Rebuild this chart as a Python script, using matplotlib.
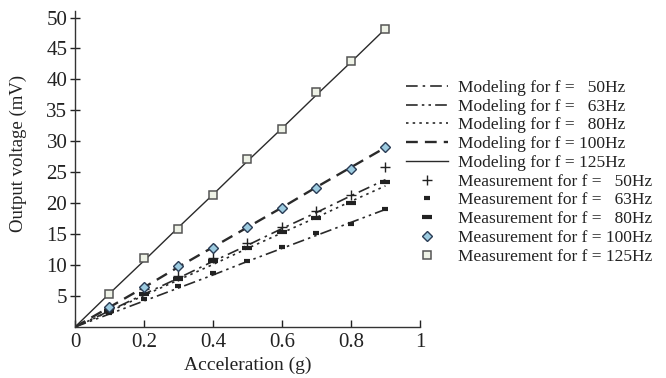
import matplotlib
matplotlib.use("Agg")
import matplotlib.pyplot as plt

accel = [0.0, 0.1, 0.2, 0.3, 0.4, 0.5, 0.6, 0.7, 0.8, 0.9]

model_50 = [0.0, 2.6, 5.3, 7.9, 10.6, 13.2, 15.9, 18.5, 21.2, 23.8]
model_63 = [0.0, 2.1, 4.2, 6.3, 8.4, 10.6, 12.7, 14.8, 16.9, 19.0]
model_80 = [0.0, 2.5, 5.1, 7.6, 10.1, 12.7, 15.2, 17.7, 20.3, 22.8]
model_100 = [0.0, 3.2, 6.4, 9.7, 12.9, 16.1, 19.3, 22.6, 25.8, 29.0]
model_125 = [0.0, 5.4, 10.7, 16.1, 21.4, 26.8, 32.1, 37.5, 42.8, 48.2]

meas_50 = [0.0, 3.0, 6.1, 8.3, 11.1, 13.5, 16.1, 18.7, 21.4, 25.8]
meas_63 = [0.0, 2.2, 4.5, 6.7, 8.8, 10.7, 13.0, 15.2, 16.6, 19.1]
meas_80 = [0.0, 2.5, 5.4, 7.7, 10.6, 12.7, 15.4, 17.6, 20.0, 23.4]
meas_100 = [0.0, 3.2, 6.4, 9.8, 12.7, 16.1, 19.2, 22.4, 25.6, 29.1]
meas_125 = [0.0, 5.3, 11.1, 15.9, 21.4, 27.1, 32.0, 37.9, 43.0, 48.2]

x_ticks = [0, 0.2, 0.4, 0.6, 0.8, 1]
x_tick_labels = ["0", "0.2", "0.4", "0.6", "0.8", "1"]
y_ticks = [5, 10, 15, 20, 25, 30, 35, 40, 45, 50]
y_tick_labels = ["5", "10", "15", "20", "25", "30", "35", "40", "45", "50"]

plt.rcParams['font.family'] = ['Liberation Serif', 'DejaVu Serif']

fig = plt.figure(figsize=(6.66, 3.78), dpi=100)
ax = fig.add_axes([0.1126, 0.135, 0.518, 0.835])

lc = '#2a2a2a'
h1, = ax.plot(accel, model_50, color=lc, lw=1.2, linestyle=(0, (7, 3, 1.5, 3)))
h2, = ax.plot(accel, model_63, color=lc, lw=1.2, linestyle=(0, (7, 2.5, 1.5, 2.5, 1.5, 2.5)))
h3, = ax.plot(accel, model_80, color=lc, lw=1.2, linestyle=(0, (1.5, 2.5)))
h4, = ax.plot(accel, model_100, color=lc, lw=1.7, linestyle=(0, (5, 3)))
h5, = ax.plot(accel, model_125, color=lc, lw=1.0, linestyle='-')

m1, = ax.plot(accel[1:], meas_50[1:], linestyle='none', marker='+', ms=6.5, mew=1.0, color='#222222')
m2, = ax.plot(accel[1:], meas_63[1:], linestyle='none', marker='_', ms=4, mew=3.0, color='#222222')
m3, = ax.plot(accel[1:], meas_80[1:], linestyle='none', marker='_', ms=6.5, mew=3.0, color='#222222')
m4, = ax.plot(accel[1:], meas_100[1:], linestyle='none', marker='D', ms=4.8, mew=1.0,
              markerfacecolor='#9ccbe0', markeredgecolor='#2a3c55')
m5, = ax.plot(accel[1:], meas_125[1:], linestyle='none', marker='s', ms=6.2, mew=1.1,
              markerfacecolor='#eef2e6', markeredgecolor='#555555')

ax.set_xlim(0, 1)
ax.set_ylim(0, 51)
ax.set_xticks(x_ticks)
ax.set_xticklabels(x_tick_labels)
ax.set_yticks(y_ticks)
ax.set_yticklabels(y_tick_labels)
ax.spines['top'].set_visible(False)
ax.spines['right'].set_visible(False)
for s in ['left', 'bottom']:
    ax.spines[s].set_color('#333333')
    ax.spines[s].set_linewidth(1.0)
ax.tick_params(axis='y', direction='inout', length=7, width=1.0, labelsize=15,
               colors='#222222', pad=2)
ax.tick_params(axis='x', direction='in', length=5, width=1.0, labelsize=15,
               colors='#222222', pad=4)
ax.set_xlabel('Acceleration (g)', fontsize=14, color='#222222', labelpad=4)
ax.set_ylabel('Output voltage (mV)', fontsize=13.5, color='#222222')
ax.yaxis.set_label_coords(-0.14, 0.55)

handles = [h1, h2, h3, h4, h5, m1, m2, m3, m4, m5]
fs = '\u2007'
labels = ['Modeling for f = ' + fs + '50Hz', 'Modeling for f = ' + fs + '63Hz',
          'Modeling for f = ' + fs + '80Hz',
          'Modeling for f = 100Hz', 'Modeling for f = 125Hz',
          'Measurement for f = ' + fs + '50Hz', 'Measurement for f = ' + fs + '63Hz',
          'Measurement for f = ' + fs + '80Hz', 'Measurement for f = 100Hz',
          'Measurement for f = 125Hz']
fig.legend(handles, labels, loc='upper left', bbox_to_anchor=(0.61, 0.789),
           frameon=False, fontsize=12.5, handlelength=2.42, handletextpad=0.58,
           labelspacing=0.15, borderaxespad=0, borderpad=0, labelcolor='#222222')

fig.savefig('out.png', dpi=100, facecolor='white')
